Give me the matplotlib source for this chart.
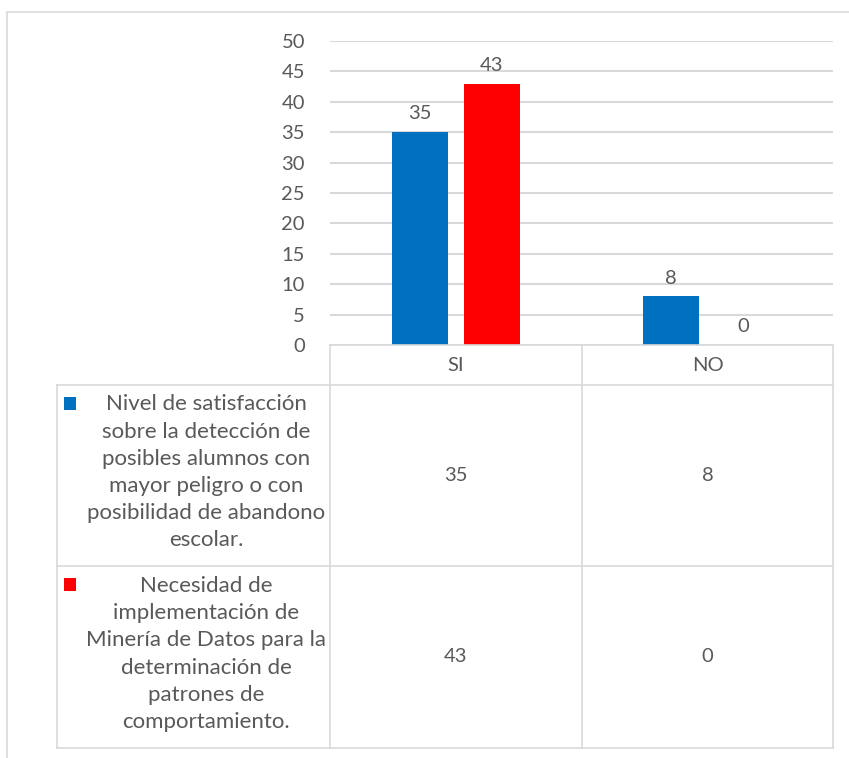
import matplotlib.pyplot as plt
from matplotlib.lines import Line2D
from matplotlib.patches import Rectangle
import numpy as np

categories = ['SI', 'NO']
series_names = [
    'Nivel de satisfacción\nsobre la detección de\nposibles alumnos con\nmayor peligro o con\nposibilidad de abandono\nescolar.',
    'Necesidad de\nimplementación de\nMinería de Datos para la\ndeterminación de\npatrones de\ncomportamiento.',
]
satisfaccion = [35, 8]
mineria = [43, 0]
series_values = [satisfaccion, mineria]
series_colors = ['#0070C0', '#FF0000']
yticks = [0, 5, 10, 15, 20, 25, 30, 35, 40, 45, 50]

W, H = 849, 758
GRID = '#D9D9D9'
TXT = '#595959'
FS = 14.5
FS_LEG = 16

plt.rcParams['font.family'] = ['Lato', 'DejaVu Sans']

fig = plt.figure(figsize=(W / 100, H / 100), dpi=100)


def fx(px):
    return px / W


def fy(py):
    return 1 - py / H


def hline(x0, x1, y):
    fig.add_artist(Line2D([fx(x0), fx(x1)], [fy(y), fy(y)], color=GRID, lw=1.2))


def vline(x, y0, y1):
    fig.add_artist(Line2D([fx(x), fx(x)], [fy(y0), fy(y1)], color=GRID, lw=1.2))


# chart frame
fig.add_artist(Rectangle((fx(7), fy(800)), fx(860), fy(12) - fy(800),
                         fill=False, edgecolor=GRID, lw=1.2))

# plot area
ax_l, ax_r, ax_t, ax_b = 330, 833, 41, 345
ax = fig.add_axes([fx(ax_l), fy(ax_b), fx(ax_r - ax_l), fy(ax_t) - fy(ax_b)])
ax.set_xlim(-0.5, len(categories) - 0.5)
ax.set_ylim(0, 50)
ax.set_yticks(yticks)
ax.set_xticks([])
for s in ax.spines.values():
    s.set_visible(False)
ax.grid(axis='y', color=GRID, lw=1.5)
ax.set_axisbelow(True)
ax.tick_params(axis='y', length=0, pad=18, labelsize=FS, labelcolor=TXT)

x = np.arange(len(categories))
width = 0.223
offsets = [-0.143, 0.143]
for vals, off, col in zip(series_values, offsets, series_colors):
    bars = ax.bar(x + off, vals, width, color=col, zorder=3)
    for b, v in zip(bars, vals):
        ax.annotate(str(v), (b.get_x() + b.get_width() / 2, v),
                    xytext=(0, 7), textcoords='offset points',
                    ha='center', va='bottom', fontsize=FS, color=TXT)

# data table below the plot
col_x = [330, 582, 833]
tab_left = 57
row_y = [345, 385, 566, 748]

hline(col_x[0], col_x[-1], row_y[0])
for yy in row_y[1:]:
    hline(tab_left, col_x[-1], yy)
for xx in col_x:
    vline(xx, row_y[0], row_y[-1])
vline(tab_left, row_y[1], row_y[-1])

for i, cat in enumerate(categories):
    cx = (col_x[i] + col_x[i + 1]) / 2
    fig.text(fx(cx), fy((row_y[0] + row_y[1]) / 2), cat, ha='center', va='center',
             fontsize=FS, color=TXT)

for r, (name, vals, col) in enumerate(zip(series_names, series_values, series_colors)):
    y0, y1 = row_y[r + 1], row_y[r + 2]
    cy = (y0 + y1) / 2 - 3
    fig.text(fx(206), fy(cy), name, ha='center', va='center', fontsize=FS_LEG,
             color=TXT, linespacing=1.45, multialignment='center')
    fig.add_artist(Rectangle((fx(64), fy(y0 + 25)), fx(12), fy(y0 + 12) - fy(y0 + 25),
                             facecolor=col, edgecolor='none'))
    for i, v in enumerate(vals):
        cx = (col_x[i] + col_x[i + 1]) / 2
        fig.text(fx(cx), fy(cy + 3), str(v), ha='center', va='center',
                 fontsize=FS, color=TXT)

fig.savefig('out.png', dpi=100)
